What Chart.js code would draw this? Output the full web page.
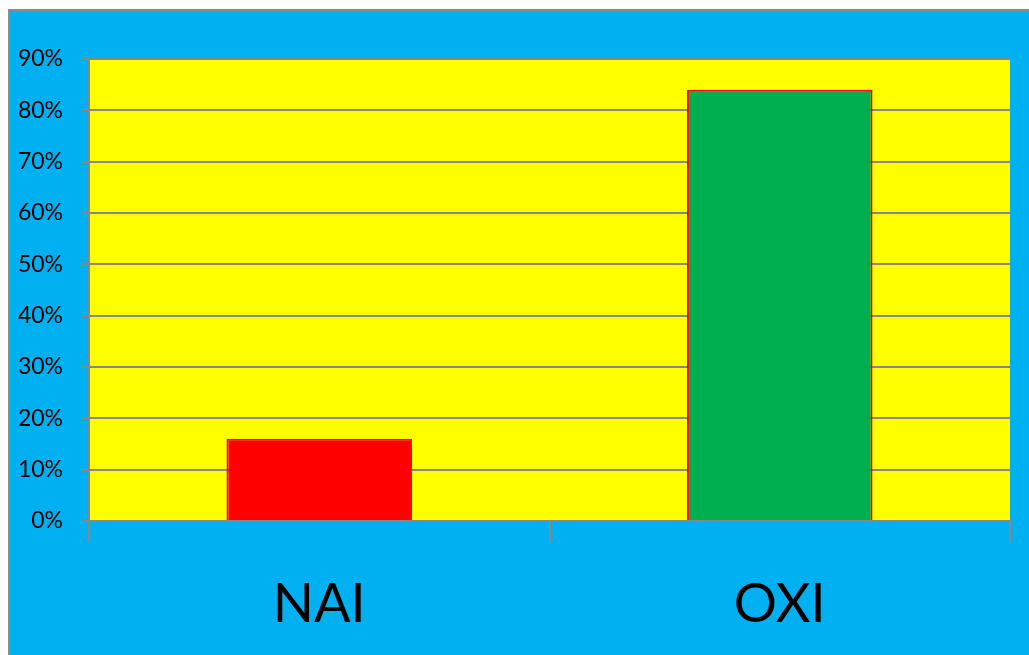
<!DOCTYPE html>
<html>
<head>
<meta charset="utf-8">
<script src="https://cdn.jsdelivr.net/npm/chart.js@4"></script>
<style>
html,body{margin:0;padding:0;background:#fff;}
#wrap{position:absolute;left:0;top:0;width:1029px;height:655px;}
</style>
</head>
<body>
<div id="wrap"><canvas id="c" width="1029" height="655"></canvas></div>
<script>
const categories = ["NAI", "OXI"];
const values = [0.16, 0.84];
const barColors = ["#FF0000", "#00B050"];
const yTicks = [0, 0.1, 0.2, 0.3, 0.4, 0.5, 0.6, 0.7, 0.8, 0.9];

const GRID = "#878787";

const bgPlugin = {
  id: "bg",
  beforeDraw(chart) {
    const ctx = chart.ctx;
    ctx.save();
    ctx.fillStyle = "#ffffff";
    ctx.fillRect(0, 0, chart.width, chart.height);
    ctx.fillStyle = "#00B0F0";
    ctx.fillRect(9, 10, chart.width - 9, chart.height - 10);
    ctx.fillStyle = "#8c8c8c";
    ctx.fillRect(8, 9, chart.width - 8, 2);
    ctx.fillRect(8, 9, 2, chart.height - 9);
    const a = chart.chartArea;
    ctx.fillStyle = "#FFFF00";
    ctx.fillRect(a.left, a.top, a.right - a.left, a.bottom - a.top);
    ctx.restore();
  }
};

new Chart(document.getElementById("c"), {
  type: "bar",
  data: {
    labels: categories,
    datasets: [{
      data: values,
      backgroundColor: barColors,
      borderColor: "#FF0000",
      borderWidth: 2,
      categoryPercentage: 1,
      barPercentage: 0.403
    }]
  },
  plugins: [bgPlugin],
  options: {
    responsive: false,
    animation: false,
    devicePixelRatio: 1,
    layout: { padding: { left: 0, right: 19, top: 59, bottom: 0 } },
    plugins: { legend: { display: false }, tooltip: { enabled: false } },
    scales: {
      x: {
        offset: true,
        grid: { offset: true, drawOnChartArea: false, drawTicks: true, tickLength: 21, color: GRID, lineWidth: 2 },
        border: { display: true, color: GRID, width: 2 },
        ticks: { color: "#000", font: { family: "Lato, 'Open Sans', sans-serif", size: 54 }, padding: 30 },
        afterFit(s) { s.height = 134; }
      },
      y: {
        min: 0,
        max: 0.9,
        afterBuildTicks(s) { s.ticks = yTicks.map(v => ({ value: v })); },
        grid: { color: GRID, lineWidth: 2, tickLength: 8, drawTicks: true },
        border: { display: true, color: GRID, width: 2 },
        ticks: {
          color: "#000",
          font: { family: "Lato, 'Open Sans', sans-serif", size: 23 },
          padding: 18,
          callback: v => Math.round(v * 100) + "%"
        },
        afterFit(s) { s.width = 89; }
      }
    }
  }
});
</script>
</body>
</html>
